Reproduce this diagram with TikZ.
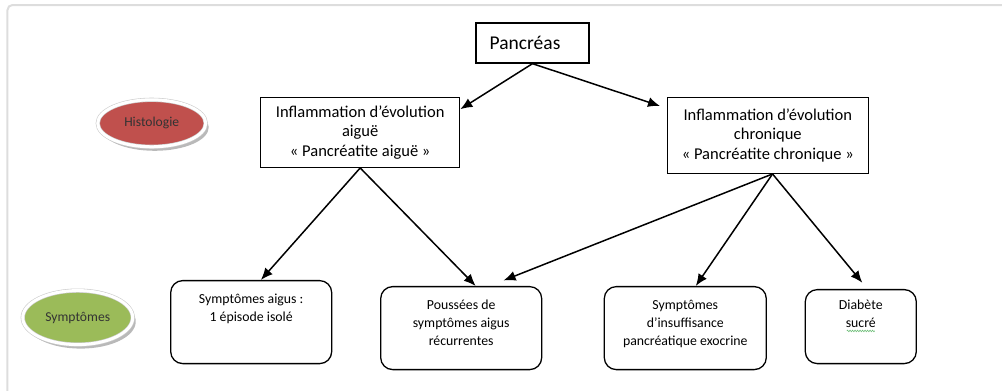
\documentclass[tikz,border=0pt]{standalone}
\usepackage{fontspec}
\setmainfont{Carlito}
\usepackage{tikz}
\usetikzlibrary{shapes}
\usetikzlibrary{arrows.meta}
\usetikzlibrary{shadows}
\usetikzlibrary{decorations.pathmorphing}
\usetikzlibrary{positioning}

\definecolor{histored}{RGB}{192,80,77}
\definecolor{symptgreen}{RGB}{155,187,89}
\definecolor{framegray}{RGB}{221,221,221}
\definecolor{spellgreen}{RGB}{110,190,120}

\begin{document}
\begin{tikzpicture}[-{Latex[length=12pt,width=10pt]}, line width=1.5pt, x=1pt, y=1pt,
  box/.style={rectangle,draw,line width=1.3pt,fill=white,align=center,font=\fontsize{16.5}{19.5}\selectfont},
  rbox/.style={rectangle,rounded corners=12pt,draw,line width=1.3pt,fill=white,align=center,inner ysep=0pt,font=\fontsize{13.8}{18}\selectfont},
  oval/.style={ellipse,draw=black!20,line width=0.6pt,double=white,double distance=3pt,inner sep=0pt,text=black!80,font=\fontsize{13.6}{16}\selectfont,drop shadow={shadow xshift=3pt,shadow yshift=-4pt,opacity=0.55}}]
	  \useasboundingbox (-532.5,-348) rectangle (469.5,43);
	  \draw[-, framegray, line width=2pt, rounded corners=5pt] (-525,-348) -- (-525,38) -- (469.5,38);

	  \node[box, minimum width=113pt, minimum height=40pt, font=\fontsize{19.5}{22}\selectfont] (pancreas) {Pancréas\hspace*{15pt}};
	  \node[box, minimum width=199pt, minimum height=70pt] (aigue) [below left=33pt and 15pt of pancreas] {Inflammation d’évolution\\aiguë\\« Pancréatite aiguë »};
	  \node[box, minimum width=201pt, minimum height=76pt] (chronique) [below right=33pt and 77pt of pancreas] {Inflammation d’évolution\\chronique\\« Pancréatite chronique »};

	  \node[rbox, minimum width=161pt, text height=41pt, text depth=42pt] (aigus) [below=112pt of aigue, xshift=-109pt] {Symptômes aigus :\\1 épisode isolé};
	  \node[rbox, minimum width=161pt, text height=59pt, text depth=24pt] (poussees) [below=118pt of aigue, xshift=101pt] {Poussées de\\symptômes aigus\\récurrentes};
	  \node[rbox, minimum width=162pt, text height=59pt, text depth=24pt] (insuff) [below=112pt of chronique, xshift=-82.5pt] {Symptômes\\d’insuffisance\\pancréatique exocrine};
	  \node[rbox, minimum width=111pt, text height=38pt, text depth=36pt] (diabete) [below=115pt of chronique, xshift=93pt] {Diabète\\sucré};

	  \node[oval, fill=histored, minimum width=108pt, minimum height=47pt] (histo) [left=54pt of aigue, yshift=9pt] {Histologie};
	  \node[oval, fill=symptgreen, minimum width=110pt, minimum height=54pt] (sympt) [left=37pt of aigus, yshift=4.5pt] {Symptômes};

	  \path
	    (pancreas.south) edge (aigue.13)
	    (pancreas.south) edge [shorten >=7pt] (chronique.165)

	    (aigue.south) edge (aigus.77)
	    (aigue.south) edge (poussees.71)

	    (chronique.-83) edge [shorten >=15pt] (poussees.56)
	    (chronique.-83) edge (insuff.76)
	    (chronique.-83) edge [shorten >=8pt] (diabete.80);

	  \draw[-, spellgreen, line width=0.6pt, decorate, decoration={snake, amplitude=0.8pt, segment length=2.5pt}]
	    ([xshift=-14pt,yshift=-42pt]diabete.north) -- ([xshift=14pt,yshift=-42pt]diabete.north);
\end{tikzpicture}
\end{document}
